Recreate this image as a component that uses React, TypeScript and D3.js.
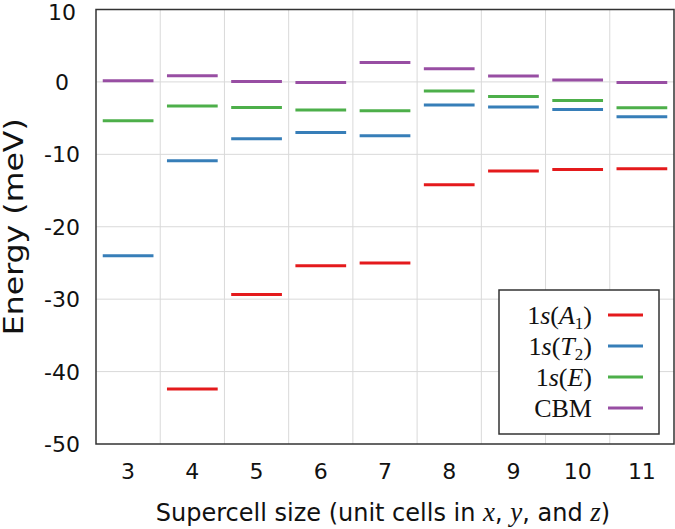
import React from "react";
import * as d3 from "d3";

const sizes = [3, 4, 5, 6, 7, 8, 9, 10, 11];
const a1Values: (number | null)[] = [null, -42.4, -29.35, -25.4, -25.0, -14.2, -12.3, -12.1, -12.0];
const t2Values: (number | null)[] = [-24.0, -10.9, -7.84, -7.0, -7.42, -3.2, -3.47, -3.8, -4.8];
const eValues: (number | null)[] = [-5.35, -3.34, -3.52, -3.89, -3.98, -1.27, -2.0, -2.55, -3.56];
const cbmValues: (number | null)[] = [0.17, 0.85, 0.07, -0.07, 2.69, 1.82, 0.8, 0.25, -0.07];
const yTicks = [10, 0, -10, -20, -30, -40, -50];

const seriesList = [
  { key: "A1", values: a1Values, color: "#e41a1c" },
  { key: "T2", values: t2Values, color: "#377eb8" },
  { key: "E", values: eValues, color: "#4daf4a" },
  { key: "CBM", values: cbmValues, color: "#984ea3" },
];

const W = 675;
const H = 529;
const M = { left: 96, right: 674, top: 9.5, bottom: 444 };
const SANS = "'DejaVu Sans', sans-serif";
const SERIF = "'Liberation Serif', 'DejaVu Serif', serif";

export default function App() {
  const x = d3.scaleBand<number>().domain(sizes).range([M.left, M.right]).padding(0);
  const y = d3.scaleLinear().domain([-50, 10]).range([M.bottom, M.top]);
  const bw = x.bandwidth();
  const inset = bw * 0.105;

  const legendRows = [
    { color: "#e41a1c", label: (<><tspan>1</tspan><tspan fontStyle="italic">s</tspan><tspan>(</tspan><tspan fontStyle="italic">A</tspan><tspan fontSize="17" dy="5">1</tspan><tspan dy="-5">)</tspan></>) },
    { color: "#377eb8", label: (<><tspan>1</tspan><tspan fontStyle="italic">s</tspan><tspan>(</tspan><tspan fontStyle="italic">T</tspan><tspan fontSize="17" dy="5">2</tspan><tspan dy="-5">)</tspan></>) },
    { color: "#4daf4a", label: (<><tspan>1</tspan><tspan fontStyle="italic">s</tspan><tspan>(</tspan><tspan fontStyle="italic">E</tspan><tspan>)</tspan></>) },
    { color: "#984ea3", label: (<><tspan>CBM</tspan></>) },
  ];

  return (
    <svg width={W} height={H} style={{ position: "absolute", left: 0, top: 0, background: "#fff" }}>
      <rect x={0} y={0} width={W} height={H} fill="#fff" />
      {/* grid */}
      {yTicks.filter((t) => t !== 10 && t !== -50).map((t) => (
        <line key={"gy" + t} x1={M.left} x2={M.right} y1={y(t)} y2={y(t)} stroke="#d9d9d9" strokeWidth={1} />
      ))}
      {sizes.slice(1).map((s) => (
        <line key={"gx" + s} x1={x(s)!} x2={x(s)!} y1={M.top} y2={M.bottom} stroke="#d9d9d9" strokeWidth={1} />
      ))}
      {/* data */}
      {seriesList.map((ser) =>
        ser.values.map((v, i) =>
          v == null ? null : (
            <line
              key={ser.key + i}
              x1={x(sizes[i])! + inset}
              x2={x(sizes[i])! + bw - inset}
              y1={y(v)}
              y2={y(v)}
              stroke={ser.color}
              strokeWidth={3}
            />
          )
        )
      )}
      {/* frame */}
      <rect x={M.left} y={M.top} width={M.right - M.left} height={M.bottom - M.top} fill="none" stroke="#333" strokeWidth={1.5} />
      {/* y ticks */}
      {yTicks.map((t) => (
        <text key={"ty" + t} x={62} y={Math.max(y(t), 12)} dy="0.36em" textAnchor="middle" fontFamily={SANS} fontSize={22} fill="#111">
          {t}
        </text>
      ))}
      {/* x ticks */}
      {sizes.map((s) => (
        <text key={"tx" + s} x={x(s)! + bw / 2} y={479} textAnchor="middle" fontFamily={SANS} fontSize={22} fill="#111">
          {s}
        </text>
      ))}
      {/* axis titles */}
      <text x={(M.left + M.right) / 2 - 2} y={521} textAnchor="middle" fontFamily={SANS} fontSize={24} fill="#111">
        <tspan>Supercell size (unit cells in </tspan>
        <tspan fontFamily={SERIF} fontStyle="italic" fontSize={27}>x</tspan>
        <tspan>, </tspan>
        <tspan fontFamily={SERIF} fontStyle="italic" fontSize={27}>y</tspan>
        <tspan>, and </tspan>
        <tspan fontFamily={SERIF} fontStyle="italic" fontSize={27}>z</tspan>
        <tspan>)</tspan>
      </text>
      <text transform={`translate(23, ${(M.top + M.bottom) / 2}) rotate(-90)`} textAnchor="middle" fontFamily={SANS} fontSize={26} fill="#111" textLength={217} lengthAdjust="spacingAndGlyphs">
        Energy (meV)
      </text>
      {/* legend */}
      <rect x={499} y={290} width={160} height={144} fill="#fff" stroke="#333" strokeWidth={1.5} />
      {legendRows.map((r, i) => (
        <g key={"lg" + i}>
          <text x={592} y={315 + i * 31} dy="0.35em" textAnchor="end" fontFamily={SERIF} fontSize={26} fill="#111">
            {r.label}
          </text>
          <line x1={608} x2={643} y1={315 + i * 31} y2={315 + i * 31} stroke={r.color} strokeWidth={3} />
        </g>
      ))}
    </svg>
  );
}
